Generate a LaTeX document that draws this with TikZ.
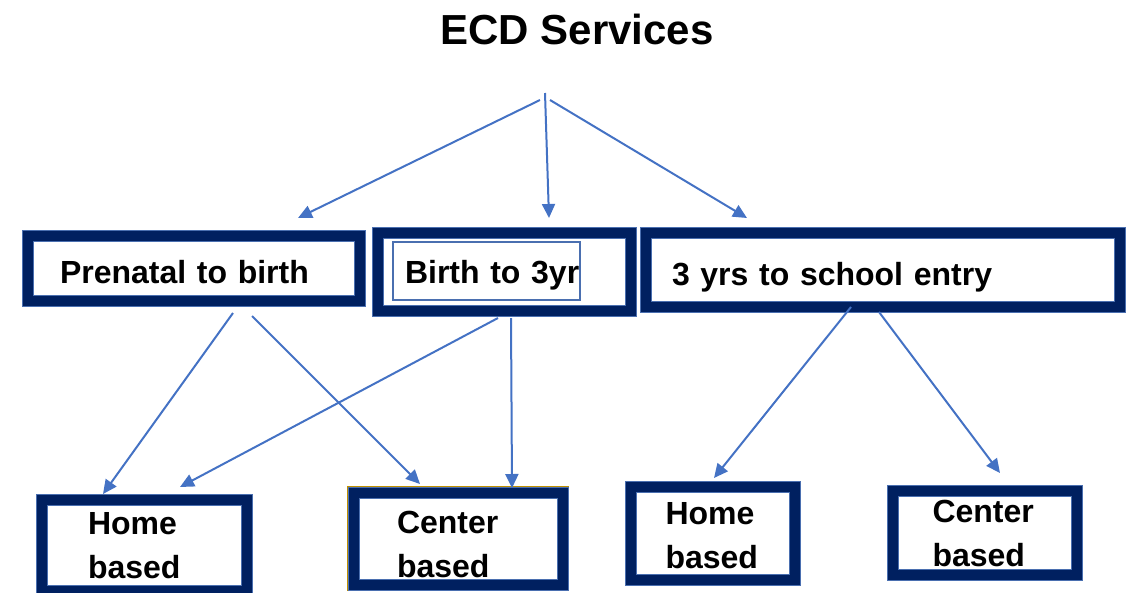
\documentclass[tikz,border=0pt]{standalone}
\usepackage{fontspec}
\setmainfont{Liberation Sans}
\usetikzlibrary{arrows.meta, calc}
\definecolor{navyband}{HTML}{002060}
\definecolor{bandedge}{HTML}{4A6FB0}
\definecolor{arrowblue}{HTML}{4472C4}
\definecolor{goldline}{HTML}{BF9000}
\tikzstyle{ecdbox} = [rectangle, draw=navyband, line width=10pt, preaction={fill=white, draw=bandedge, line width=12pt}, outer sep=0pt, align=left, inner ysep=0pt, font=\fontsize{32}{44}\selectfont\bfseries]
\tikzstyle{agebox} = [ecdbox, text height=31pt, text depth=0pt]
\tikzstyle{kindbox} = [ecdbox, text depth=44.5pt]
\tikzstyle{arrow} = [line width=2pt, draw=arrowblue, -{Triangle[length=14pt, width=13pt]}]

\begin{document}
\begin{tikzpicture}[x=1pt, y=-1pt]
    \useasboundingbox (0,0) rectangle (1135,592);
    \node (title) [font=\fontsize{42}{50}\selectfont\bfseries] at (577,29) {ECD Services};
    \coordinate (root) at (545,93);

    \node (prenatal) [agebox, text width=267pt, inner xsep=32.5pt, minimum height=65pt] at (193.5,268) {Prenatal to birth};
    \node (birth) [agebox, text height=24pt, text width=198pt, inner xsep=27.5pt, minimum height=78pt] at (504,271.5) {Birth to 3yr};
    \node (school) [agebox, text width=421pt, inner xsep=26.5pt, minimum height=74pt] at (882.5,269.5) {3 yrs to school entry};
    \draw [bandedge, line width=1.5pt] ($(birth.north west)+(15.5,9.5)$) rectangle ($(birth.south east)+(-50.5,-10.5)$);

    \node (homeL) [kindbox, text height=23pt, text width=112pt, inner xsep=46.5pt, minimum height=91pt] at (144,545) {Home\\based};
    \node (centerL) [kindbox, text height=35pt, text width=122pt, inner xsep=43.5pt, minimum height=92pt] at (458,538.5) {Center\\based};
    \draw [goldline, line width=1.5pt] ($(centerL.south west)+(-6.25,6)$) |- ($(centerL.north east)+(6,-6.25)$);
    \node (homeR) [kindbox, text height=27pt, text width=94pt, inner xsep=35pt, minimum height=93pt] at (712.5,533) {Home\\based};
    \node (centerR) [kindbox, text height=25pt, text width=104pt, inner xsep=40pt, minimum height=84pt] at (984.5,532.5) {Center\\based};

    \draw [arrow] ($(root)+(-5,7)$) -- ($(prenatal.north)+(104.5,-17.5)$);
    \draw [arrow] (root) -- ($(birth.north)+(45,-14.5)$);
    \draw [arrow] ($(root)+(5,7)$) -- ($(school.north)+(-135.5,-14.5)$);
    \draw [arrow] ($(prenatal.south)+(39.5,12.5)$) -- ($(homeL.north)+(-41,-5.5)$);
    \draw [arrow] ($(prenatal.south)+(58.5,15.5)$) -- ($(centerL.north)+(-38,-8.5)$);
    \draw [arrow] ($(birth.south)+(-6,7.5)$) -- ($(homeL.north)+(36,-12.5)$);
    \draw [arrow] ($(birth.south)+(7,7.5)$) -- ($(centerL.north)+(54,-4.5)$);
    \draw [arrow] ($(school.south)+(-31.5,0.5)$) -- ($(homeR.north)+(1.5,-8.5)$);
    \draw [arrow] ($(school.south)+(-3.5,5.5)$) -- ($(centerR.north)+(15.5,-17.5)$);
\end{tikzpicture}
\end{document}
